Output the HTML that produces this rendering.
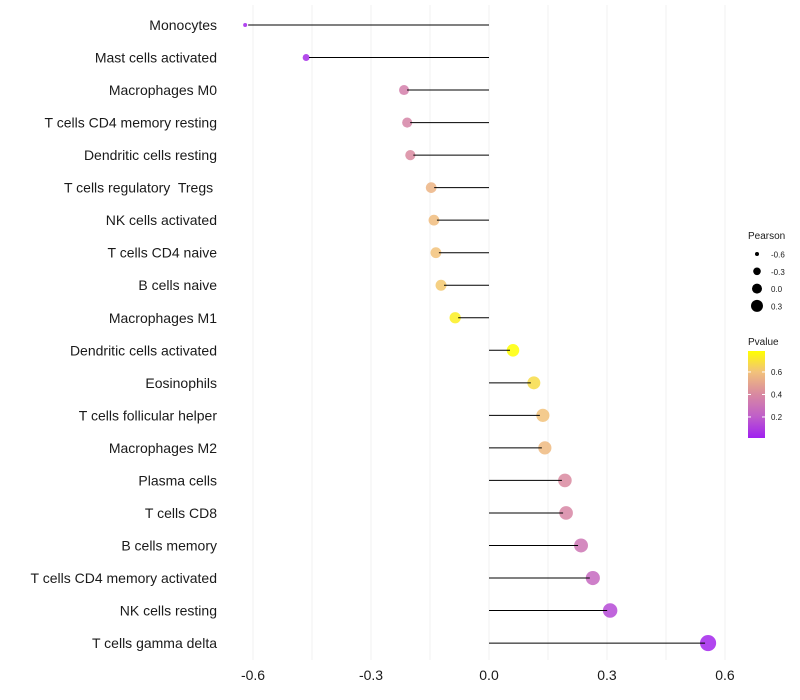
<!DOCTYPE html>
<html><head><meta charset="utf-8"><style>
body{margin:0;background:#fff;}
svg{display:block;font-family:"Liberation Sans",sans-serif;}
text{white-space:pre;}
</style></head><body>
<svg id="chart" width="800" height="700" viewBox="0 0 800 700">
<g id="grid"></g>
<g id="marks"></g>
<g id="ylabels"></g>
<g id="xlabels"></g>
<g id="legend"></g>
</svg>
<script>
const categories=["Monocytes","Mast cells activated","Macrophages M0","T cells CD4 memory resting","Dendritic cells resting","T cells regulatory  Tregs ","NK cells activated","T cells CD4 naive","B cells naive","Macrophages M1","Dendritic cells activated","Eosinophils","T cells follicular helper","Macrophages M2","Plasma cells","T cells CD8","B cells memory","T cells CD4 memory activated","NK cells resting","T cells gamma delta"];
const pearson=[-0.62,-0.465,-0.216,-0.208,-0.2,-0.147,-0.14,-0.135,-0.122,-0.086,0.061,0.114,0.137,0.142,0.193,0.196,0.234,0.264,0.308,0.557];
const pvalue=[0.02,0.04,0.35,0.37,0.4,0.55,0.58,0.6,0.62,0.74,0.79,0.68,0.6,0.57,0.4,0.38,0.3,0.24,0.13,0.02];
const xTicks=[-0.6,-0.3,0.0,0.3,0.6];
const xTickLabels=["-0.6","-0.3","0.0","0.3","0.6"];
const sizeLegend=[-0.6,-0.3,0.0,0.3];
const sizeLegendLabels=["-0.6","-0.3","0.0","0.3"];
const pLegend=[0.2,0.4,0.6];

const NS="http://www.w3.org/2000/svg";
function el(tag,attrs,parent){const e=document.createElementNS(NS,tag);for(const k in attrs)e.setAttribute(k,attrs[k]);parent.appendChild(e);return e;}
const x=v=>489+v*393.3;
const y=i=>25+i*32.53;
const r=v=>Math.sqrt(4+(v+0.62)*52);
const stops=[[0,[160,32,240]],[0.2,[192,96,200]],[0.4,[217,138,160]],[0.6,[242,194,122]],[0.79,[255,255,0]]];
function col(p){p=Math.max(0,Math.min(0.79,p));for(let i=1;i<stops.length;i++){if(p<=stops[i][0]){const a=stops[i-1],b=stops[i];const t=(p-a[0])/(b[0]-a[0]);const c=a[1].map((v,j)=>Math.round(v+(b[1][j]-v)*t));return `rgb(${c})`;}}return "rgb(255,255,0)";}

const grid=document.getElementById('grid');
for(let v=-0.6;v<=0.61;v+=0.15){
  const g=el('line',{x1:x(v),x2:x(v),y1:5,y2:660,stroke:'#f2f2f2','stroke-width':1},grid);
  
  
}
const marks=document.getElementById('marks');
categories.forEach((c,i)=>{
  const v=pearson[i];
  const pt=el('circle',{cx:x(v),cy:y(i),r:r(v),fill:col(pvalue[i]),'fill-opacity':0.85},marks);
  
  
  const ln=el('line',{x1:x(0),x2:x(v)+(v<0?3:-3),y1:y(i),y2:y(i),stroke:'#000','stroke-width':1},marks);
  
  
  const t=el('text',{x:217,y:y(i)+5,'text-anchor':'end','font-size':14,fill:'#1a1a1a'},document.getElementById('ylabels'));
  t.textContent=c;
  
  
});
xTicks.forEach((v,i)=>{
  const t=el('text',{x:x(v),y:680,'text-anchor':'middle','font-size':14,fill:'#1a1a1a'},document.getElementById('xlabels'));
  t.textContent=xTickLabels[i];
  
  
});
const lg=document.getElementById('legend');
let tt=el('text',{x:748,y:239,'font-size':10,fill:'#1a1a1a'},lg);tt.textContent='Pearson';


const lr=[2,3.8,5,6];
sizeLegend.forEach((v,i)=>{
  const cy=254+i*17.3;
  const c=el('circle',{cx:757,cy:cy,r:lr[i],fill:'#000'},lg);
  
  
  const t=el('text',{x:771,y:cy+3.5,'font-size':8,fill:'#1a1a1a'},lg);t.textContent=sizeLegendLabels[i];
  
  
});
tt=el('text',{x:748,y:345,'font-size':10,fill:'#1a1a1a'},lg);tt.textContent='Pvalue';


const defs=el('defs',{},lg);
const gr=el('linearGradient',{id:'pg',x1:0,y1:1,x2:0,y2:0},defs);
stops.forEach(s=>el('stop',{offset:s[0]/0.787,'stop-color':`rgb(${s[1]})`},gr));
const bar=el('rect',{x:748,y:351,width:17,height:87,fill:'url(#pg)'},lg);


const py=p=>438-(p-0.013)*112.5;
pLegend.forEach(p=>{
  el('line',{x1:748,x2:751,y1:py(p),y2:py(p),stroke:'#fff'},lg);
  el('line',{x1:762,x2:765,y1:py(p),y2:py(p),stroke:'#fff'},lg);
  const t=el('text',{x:771,y:py(p)+3,'font-size':8,fill:'#1a1a1a'},lg);t.textContent=p.toFixed(1);
  
  
});
</script>
</body></html>
